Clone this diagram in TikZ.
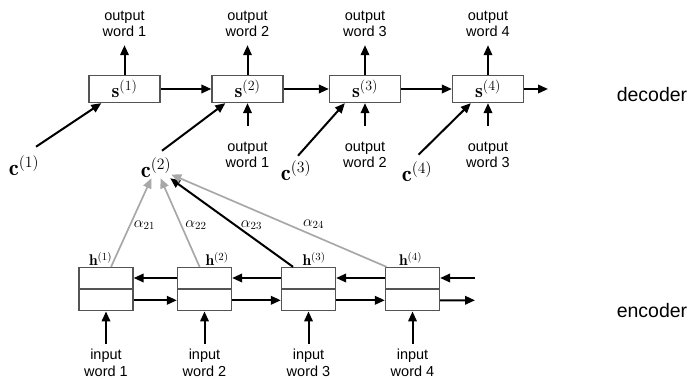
\documentclass[tikz,border=0pt]{standalone}
\usepackage{fix-cm}
\usepackage{fontspec}
\setsansfont{Liberation Sans}
\usetikzlibrary{arrows.meta,positioning}
\definecolor{boxgray}{gray}{0.33}
\definecolor{attgray}{gray}{0.66}

\tikzset{
	decbox/.style={draw=boxgray,line width=1.3pt,minimum width=71pt,minimum height=27pt,inner sep=0pt,font=\fontsize{20}{23}\selectfont},
	encbox/.style={draw=boxgray,line width=1.3pt,minimum width=54pt,minimum height=21pt,inner sep=0pt},
	word/.style={align=center,inner sep=0pt,font=\sffamily\fontsize{14.5}{16.5}\selectfont},
	ctx/.style={inner sep=0pt,font=\fontsize{22.5}{26}\selectfont},
	hid/.style={inner sep=0pt,font=\fontsize{15.5}{18}\selectfont},
	wgt/.style={inner sep=0pt,font=\fontsize{15.5}{18}\selectfont},
	part/.style={font=\sffamily\fontsize{19.5}{22}\selectfont},
	arr/.style={-{Triangle[length=10pt,width=8.5pt]},line width=2pt},
	att/.style={arr,draw=attgray,line width=1.7pt}
}

\begin{document}
\begin{tikzpicture}[x=1pt,y=1pt]
	\useasboundingbox (0,0) rectangle (689,-379);
	% decoder
	\node[decbox] (s1) at (124.5,-89) {$\mathbf{s}^{(1)}$};
	\node[decbox] (s2) at (247.5,-89) {$\mathbf{s}^{(2)}$};
	\node[decbox] (s3) at (365,-89) {$\mathbf{s}^{(3)}$};
	\node[decbox] (s4) at (488,-89) {$\mathbf{s}^{(4)}$};
	\coordinate (send) at (548,-89);
	\node[word] (o1) at (124.5,-24) {output\\word 1};
	\node[word] (o2) at (247.5,-24) {output\\word 2};
	\node[word] (o3) at (365,-24) {output\\word 3};
	\node[word] (o4) at (488,-24) {output\\word 4};
	\node[word] (p2) at (247.5,-155) {output\\word 1};
	\node[word] (p3) at (365,-155) {output\\word 2};
	\node[word] (p4) at (488,-155) {output\\word 3};
	\node[ctx] (c1) at (24,-166) {$\mathbf{c}^{(1)}$};
	\node[ctx] (c2) at (156,-168) {$\mathbf{c}^{(2)}$};
	\node[ctx] (c3) at (296,-171) {$\mathbf{c}^{(3)}$};
	\node[ctx] (c4) at (417,-172) {$\mathbf{c}^{(4)}$};
	\node[part] (dec) at (652,-95) {decoder};
	\draw[arr] (s1) -- (s2);
	\draw[arr] (s2) -- (s3);
	\draw[arr] (s3) -- (s4);
	\draw[arr] (s4) -- (send);
	\draw[arr,shorten >=8pt] (s1) -- (o1);
	\draw[arr,shorten >=8pt] (s2) -- (o2);
	\draw[arr,shorten >=8pt] (s3) -- (o3);
	\draw[arr,shorten >=8pt] (s4) -- (o4);
	\draw[arr,shorten <=16pt] (p2) -- (s2);
	\draw[arr,shorten <=16pt] (p3) -- (s3);
	\draw[arr,shorten <=16pt] (p4) -- (s4);
	\draw[arr] ([shift={(12,9)}]c1.north) -- ([xshift=13pt]s1.south west);
	\draw[arr] ([shift={(6,7)}]c2.north) -- ([xshift=14pt]s2.south west);
	\draw[arr] ([shift={(2,5)}]c3.north) -- ([xshift=16pt]s3.south west);
	\draw[arr] ([shift={(1.5,7)}]c4.north) -- ([xshift=19pt]s4.south west);
	% encoder
	\node[encbox] (b1) at (106,-278) {};
	\node[encbox] (b2) at (204.5,-278) {};
	\node[encbox] (b3) at (308.5,-278) {};
	\node[encbox] (b4) at (412.5,-278) {};
	\node[encbox,below=0pt of b1] (f1) {};
	\node[encbox,below=0pt of b2] (f2) {};
	\node[encbox,below=0pt of b3] (f3) {};
	\node[encbox,below=0pt of b4] (f4) {};
	\coordinate (bend) at (475,-278);
	\coordinate (fend) at (475,-300.3);
	\node[hid,above=1pt of b1,xshift=-5.5pt] (h1) {$\mathbf{h}^{(1)}$};
	\node[hid,above=1pt of b2,xshift=12.5pt] (h2) {$\mathbf{h}^{(2)}$};
	\node[hid,above=1pt of b3,xshift=5.5pt] (h3) {$\mathbf{h}^{(3)}$};
	\node[hid,above=1pt of b4,xshift=-2pt] (h4) {$\mathbf{h}^{(4)}$};
	\node[word] (x1) at (106,-363) {input\\word 1};
	\node[word] (x2) at (204.5,-363) {input\\word 2};
	\node[word] (x3) at (308.5,-363) {input\\word 3};
	\node[word] (x4) at (412.5,-363) {input\\word 4};
	\node[part] (enc) at (652,-311) {encoder};
	\draw[arr] (b2) -- (b1);
	\draw[arr] (b3) -- (b2);
	\draw[arr] (b4) -- (b3);
	\draw[arr] (bend) -- (b4);
	\draw[arr] (f1) -- (f2);
	\draw[arr] (f2) -- (f3);
	\draw[arr] (f3) -- (f4);
	\draw[arr] (f4) -- (fend);
	\draw[arr,shorten <=5pt] (x1) -- (f1);
	\draw[arr,shorten <=5pt] (x2) -- (f2);
	\draw[arr,shorten <=5pt] (x3) -- (f3);
	\draw[arr,shorten <=5pt] (x4) -- (f4);
	% attention
	\draw[att] (b1) -- (c2);
	\draw[att] (b2) -- (c2);
	\draw[arr] (b3) -- (c2);
	\draw[att] (b4) -- (c2);
	\node[wgt] (a21) at (144.5,-225) {$\alpha_{21}$};
	\node[wgt] (a22) at (196,-225) {$\alpha_{22}$};
	\node[wgt] (a23) at (251.5,-225) {$\alpha_{23}$};
	\node[wgt] (a24) at (313.5,-224) {$\alpha_{24}$};
\end{tikzpicture}
\end{document}
